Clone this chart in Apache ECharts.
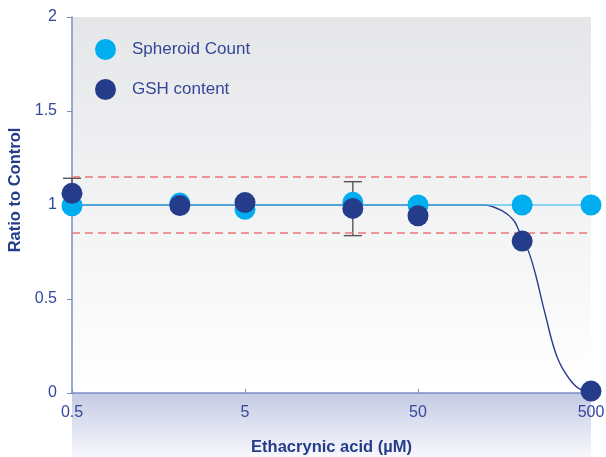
<!DOCTYPE html>
<html><head><meta charset="utf-8">
<script src="https://cdn.jsdelivr.net/npm/echarts@6/dist/echarts.min.js"></script>
<style>html,body{margin:0;padding:0;background:#fff}#c{width:606px;height:457px}</style>
</head><body><div id="c"></div>
<script>
const concentrations = [0.5, 2.1, 5, 21, 50, 200, 500];
const spheroidCount = [0.996, 1.01, 0.977, 1.014, 1.0, 1.0, 1.0];
const gshContent = [1.062, 0.997, 1.013, 0.982, 0.943, 0.808, 0.01];
const errConc = [0.5, 21];
const errLow = [0.99, 0.837];
const errHigh = [1.142, 1.124];
const spheroidFitX = [0.5, 500];
const spheroidFitY = [1, 1];
const gshFitX = [0.5, 100, 120, 156, 178, 191, 203, 218, 238, 271, 318, 379, 443, 500];
const gshFitY = [1, 1, 1, 0.965, 0.92, 0.867, 0.808, 0.752, 0.637, 0.424, 0.193, 0.069, 0.016, 0.01];
const xTicks = [0.5, 5, 50, 500];
const thresholds = [1.15, 0.85];

const FONT = 'Liberation Sans, Arial, Helvetica, sans-serif';
const NAVY = '#253c8b';
const CYAN = '#00aeef';
const LABEL = '#34479a';
const AXIS = '#7f8cc4';

const zip = (a, b) => a.map((v, i) => [v, b[i]]);

const chart = echarts.init(document.getElementById('c'), null, {renderer: 'canvas'});
chart.setOption({
  animation: false,
  backgroundColor: '#ffffff',
  grid: {
    left: 72, right: 15, top: 17, bottom: 64, show: true, borderWidth: 0,
    containLabel: false, outerBoundsMode: 'none',
    backgroundColor: new echarts.graphic.LinearGradient(0, 0, 0, 1, [
      {offset: 0, color: '#e5e6e8'}, {offset: 1, color: '#ffffff'}
    ])
  },
  graphic: [{
    type: 'rect', left: 72, top: 393, z: -10, silent: true,
    shape: {width: 519, height: 64},
    style: {fill: new echarts.graphic.LinearGradient(0, 0, 0, 1, [
      {offset: 0, color: '#c4cae4'}, {offset: 1, color: '#f7f8fc'}
    ])}
  }],
  legend: {
    data: ['Spheroid Count', 'GSH content'],
    orient: 'vertical', left: 95, top: 39, padding: 0,
    itemWidth: 21, itemHeight: 21, itemGap: 19, icon: 'circle',
    textStyle: {fontSize: 17, color: LABEL, fontFamily: FONT, padding: [0, 0, 0, 11]}
  },
  xAxis: {
    type: 'log', logBase: 10, min: 0.5, max: 500,
    name: 'Ethacrynic acid (µM)', nameLocation: 'middle', nameGap: 46,
    nameTextStyle: {fontSize: 16.5, fontWeight: 'bold', color: NAVY, fontFamily: FONT},
    axisLine: {show: true, lineStyle: {color: AXIS, width: 1.5}},
    axisTick: {show: true, inside: true, length: 4, customValues: xTicks, lineStyle: {color: AXIS}},
    axisLabel: {customValues: xTicks, fontSize: 16, color: LABEL, fontFamily: FONT, margin: 12,
      formatter: v => String(+v)},
    splitLine: {show: false}, minorTick: {show: false}, minorSplitLine: {show: false}
  },
  yAxis: {
    type: 'value', min: 0, max: 2, interval: 0.5,
    name: 'Ratio to Control', nameLocation: 'middle', nameGap: 45,
    nameTextStyle: {fontSize: 16.5, fontWeight: 'bold', color: NAVY, fontFamily: FONT, padding: [0, 0, 0, 30]},
    axisLine: {show: true, lineStyle: {color: AXIS, width: 1.5}},
    axisTick: {show: true, length: 5, lineStyle: {color: AXIS}},
    axisLabel: {fontSize: 16, color: LABEL, fontFamily: FONT, margin: 15},
    splitLine: {show: false}
  },
  series: [
    {
      type: 'line', name: 'thresholds', data: [], z: 1, symbol: 'none',
      markLine: {
        silent: true, symbol: 'none', label: {show: false},
        lineStyle: {color: '#e8767a', type: [8, 5], width: 1.5},
        data: thresholds.map(t => ({yAxis: t}))
      }
    },
    {
      type: 'custom', name: 'errors', z: 2,
      data: errConc.map((c, i) => [c, errLow[i], errHigh[i]]),
      encode: {x: 0, y: [1, 2]},
      renderItem: (params, api) => {
        const x = api.value(0);
        const pLo = api.coord([x, api.value(1)]);
        const pHi = api.coord([x, api.value(2)]);
        const w = 9;
        const st = {stroke: '#555555', lineWidth: 1.4};
        return {type: 'group', children: [
          {type: 'line', shape: {x1: pHi[0], y1: pHi[1], x2: pLo[0], y2: pLo[1]}, style: st},
          {type: 'line', shape: {x1: pHi[0] - w, y1: pHi[1], x2: pHi[0] + w, y2: pHi[1]}, style: st},
          {type: 'line', shape: {x1: pLo[0] - w, y1: pLo[1], x2: pLo[0] + w, y2: pLo[1]}, style: st}
        ]};
      }
    },
    {
      type: 'line', name: 'GSH fit', z: 3, symbol: 'none', smooth: 0.4,
      data: zip(gshFitX, gshFitY),
      lineStyle: {color: '#2b3f8f', width: 1.4}
    },
    {
      type: 'line', name: 'Spheroid fit', z: 4, symbol: 'none',
      data: zip(spheroidFitX, spheroidFitY),
      lineStyle: {color: '#4cc3f0', width: 2.2, opacity: 0.65}
    },
    {
      type: 'scatter', name: 'Spheroid Count', z: 5, symbolSize: 21,
      data: zip(concentrations, spheroidCount),
      itemStyle: {color: CYAN, opacity: 1}
    },
    {
      type: 'scatter', name: 'GSH content', z: 6, symbolSize: 21,
      data: zip(concentrations, gshContent),
      itemStyle: {color: NAVY, opacity: 1}
    }
  ]
});
</script></body></html>
